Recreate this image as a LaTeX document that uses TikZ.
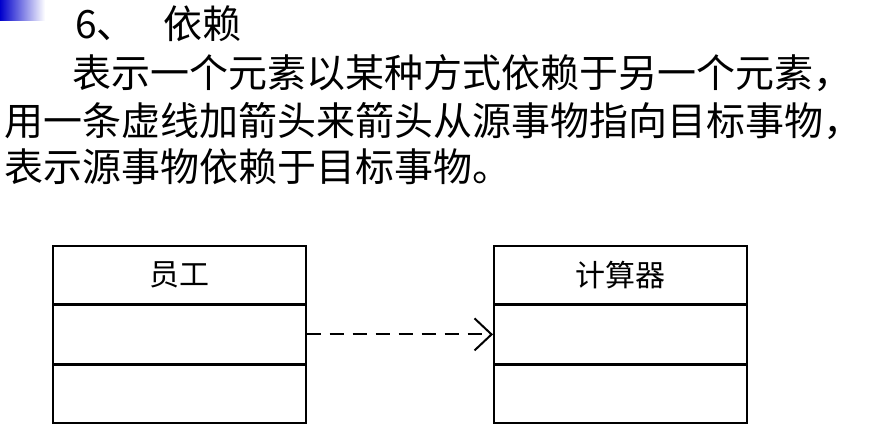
\documentclass[tikz,border=0pt]{standalone}
\usepackage{fontspec}
\setmainfont{Liberation Serif}
\newfontfamily\cjk{Noto Sans CJK SC}
\usetikzlibrary{positioning,arrows.meta}
\tikzset{
  cell/.style={draw, line width=1.6pt, minimum width=253pt, minimum height=58pt, inner sep=0pt, font=\cjk\fontsize{30}{30}\selectfont},
  txt/.style={anchor=west, inner sep=0pt, font=\cjk\fontsize{39}{39}\selectfont},
  dep/.style={line width=2pt, dash pattern=on 14pt off 9pt, -{Straight Barb[length=17pt,width=32pt,line width=2pt]}}
}
\begin{document}
\begin{tikzpicture}[x=1pt,y=1pt]
  \useasboundingbox (0,0) rectangle (877,-424);
  % corner mark
  \shade[left color=blue!80!black, right color=white] (0,0) rectangle (45,-20);
  % heading and text
  \node[txt] (title) at (75,-24) {6、\hspace{28pt}依赖};
  \node[txt] (l1) at (72,-73) {表示一个元素以某种方式依赖于另一个元素，};
  \node[txt] (l2) at (4,-121) {用一条虚线加箭头来箭头从源事物指向目标事物，};
  \node[txt] (l3) at (4,-167) {表示源事物依赖于目标事物。};
  % employee class
  \node[cell, anchor=north west] (ename) at (52,-245) {员工};
  \node[cell, below=0pt of ename] (eattr) {};
  \node[cell, below=0pt of eattr] (eop) {};
  % calculator class
  \node[cell, anchor=north west] (cname) at (493,-245) {计算器};
  \node[cell, below=0pt of cname] (cattr) {};
  \node[cell, below=0pt of cattr] (cop) {};
  \draw[dep] (eattr.east) -- (cattr.west);
\end{tikzpicture}
\end{document}
